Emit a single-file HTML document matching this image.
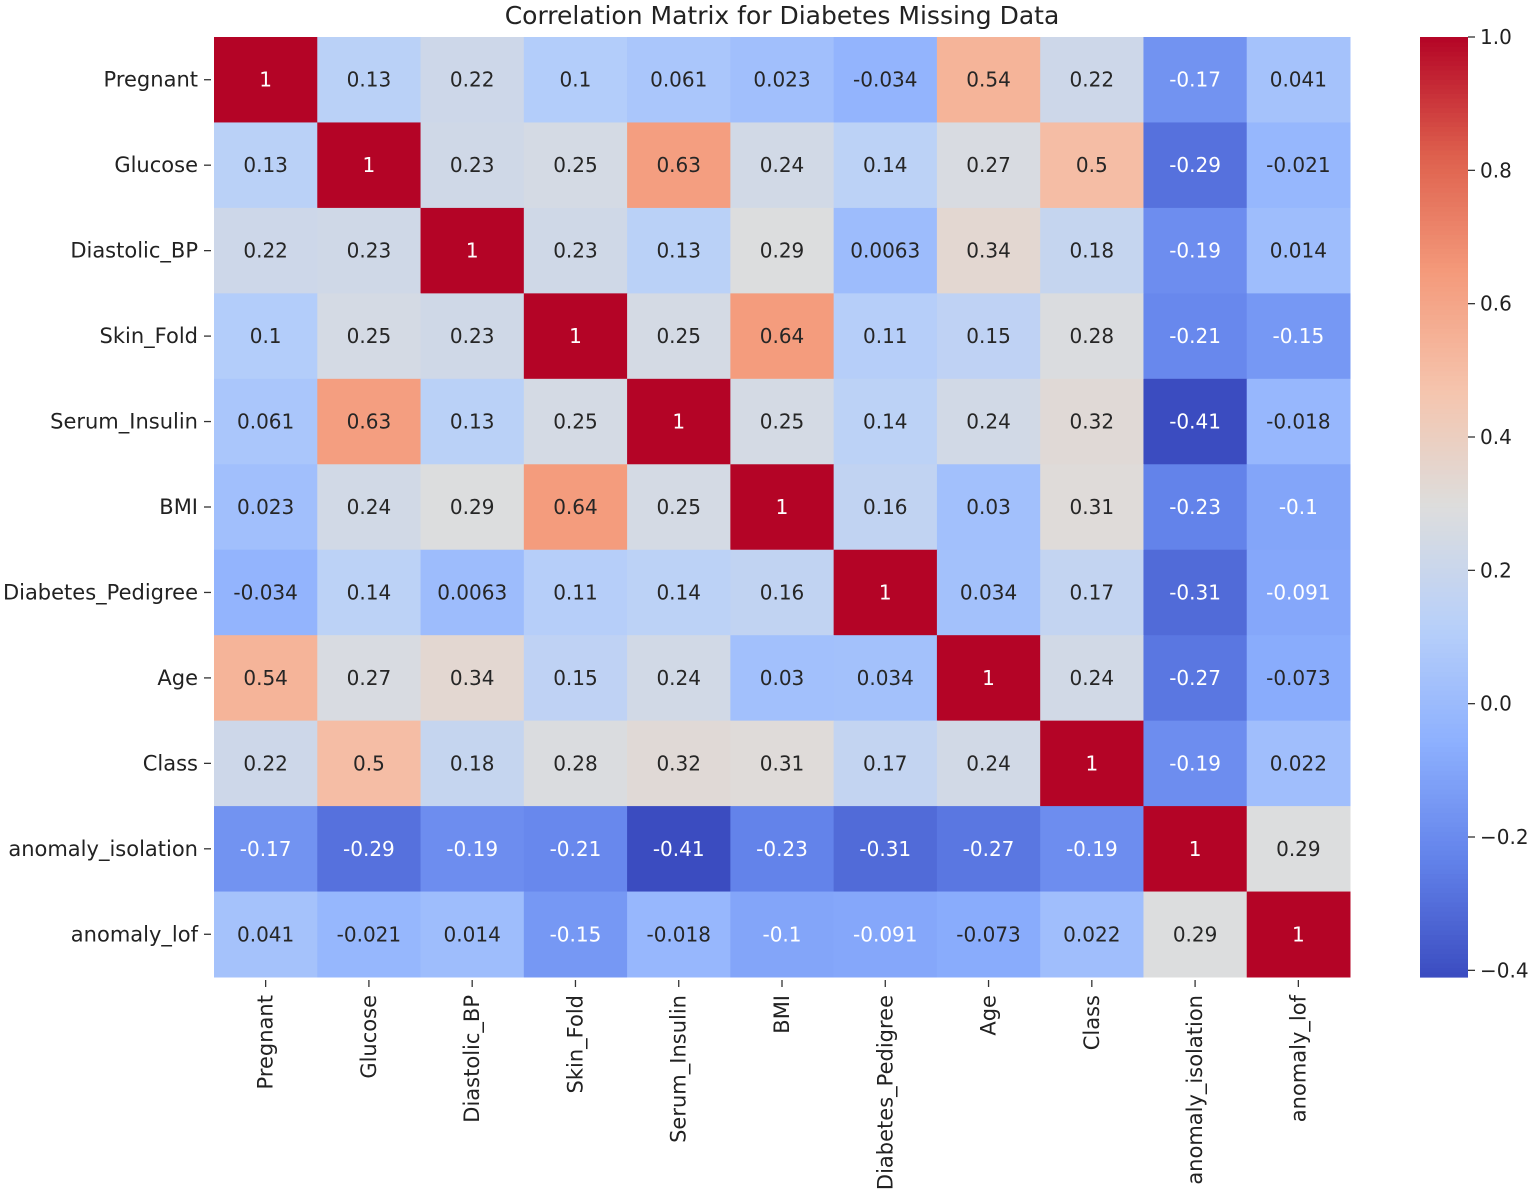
<!DOCTYPE html>
<html><head><meta charset="utf-8"><style>
body{margin:0;background:#fff;}
text{font-family:"DejaVu Sans","Liberation Sans",sans-serif;}
</style></head><body>
<svg id="chart" width="1535" height="1195" xmlns="http://www.w3.org/2000/svg">
<text x="782" y="24" font-size="25" text-anchor="middle" fill="#222">Correlation Matrix for Diabetes Missing Data</text>
<g id="cells"></g><g id="labels"></g><g id="cbar"></g>
</svg>
<script>
const variables = ["Pregnant","Glucose","Diastolic_BP","Skin_Fold","Serum_Insulin","BMI","Diabetes_Pedigree","Age","Class","anomaly_isolation","anomaly_lof"];
const annotations = [
["1","0.13","0.22","0.1","0.061","0.023","-0.034","0.54","0.22","-0.17","0.041"],
["0.13","1","0.23","0.25","0.63","0.24","0.14","0.27","0.5","-0.29","-0.021"],
["0.22","0.23","1","0.23","0.13","0.29","0.0063","0.34","0.18","-0.19","0.014"],
["0.1","0.25","0.23","1","0.25","0.64","0.11","0.15","0.28","-0.21","-0.15"],
["0.061","0.63","0.13","0.25","1","0.25","0.14","0.24","0.32","-0.41","-0.018"],
["0.023","0.24","0.29","0.64","0.25","1","0.16","0.03","0.31","-0.23","-0.1"],
["-0.034","0.14","0.0063","0.11","0.14","0.16","1","0.034","0.17","-0.31","-0.091"],
["0.54","0.27","0.34","0.15","0.24","0.03","0.034","1","0.24","-0.27","-0.073"],
["0.22","0.5","0.18","0.28","0.32","0.31","0.17","0.24","1","-0.19","0.022"],
["-0.17","-0.29","-0.19","-0.21","-0.41","-0.23","-0.31","-0.27","-0.19","1","0.29"],
["0.041","-0.021","0.014","-0.15","-0.018","-0.1","-0.091","-0.073","0.022","0.29","1"]];
const cbarTicks = ["1.0","0.8","0.6","0.4","0.2","0.0","−0.2","−0.4"];
const cbarTickValues = [1.0,0.8,0.6,0.4,0.2,0.0,-0.2,-0.4];
const vmin=-0.41, vmax=1.0;
const X0=214,X1=1350,Y0=37,Y1=977,n=variables.length;
const cw=(X1-X0)/n, ch=(Y1-Y0)/n;
const cx=i=>X0+i*cw, cy=j=>Y0+j*ch;
const stops=[[59,76,192],[98,130,234],[141,176,254],[184,208,249],[221,221,221],[245,196,173],[244,154,123],[222,96,77],[180,4,38]];
function cmap(v){let t=Math.max(0,Math.min(1,(v-vmin)/(vmax-vmin)))*(stops.length-1);let i=Math.min(stops.length-2,Math.floor(t)),f=t-i;
return stops[i].map((c,k)=>Math.round(c+(stops[i+1][k]-c)*f));}
const NS="http://www.w3.org/2000/svg";
function mk(tag,attrs,parent){const e=document.createElementNS(NS,tag);for(const k in attrs)e.setAttribute(k,attrs[k]);parent.appendChild(e);return e;}
const cells=document.getElementById('cells'),labels=document.getElementById('labels'),cbar=document.getElementById('cbar');
for(let r=0;r<n;r++)for(let c=0;c<n;c++){
 const v=parseFloat(annotations[r][c]);const col=cmap(v);
 const rect=mk('rect',{x:cx(c),y:cy(r),width:cw+0.5,height:ch+0.5,fill:`rgb(${col})`},cells);
 
 
 const light=(v<-0.08||v>0.85);
 const t=mk('text',{x:cx(c)+cw/2,y:cy(r)+ch/2+7,'font-size':20,'text-anchor':'middle',fill:light?'#ffffff':'#262626'},cells);
 t.textContent=annotations[r][c];
 
 
}
variables.forEach((name,i)=>{
 const y=cy(i)+ch/2;
 mk('line',{x1:204,x2:211,y1:y,y2:y,stroke:'#333','stroke-width':1.3},labels);
 const t=mk('text',{x:198,y:y+7,'font-size':21,'text-anchor':'end',fill:'#222'},labels);
 t.textContent=name;
 
 
 const x=cx(i)+cw/2;
 mk('line',{x1:x,x2:x,y1:980,y2:987,stroke:'#333','stroke-width':1.3},labels);
 const tx=mk('text',{x:x+7,y:995,'font-size':21,'text-anchor':'end',fill:'#222',transform:`rotate(-90 ${x+7} 995)`},labels);
 tx.textContent=name;
 
 
});
const CB0=1420,CB1=1468;
const cby=v=>Y1-(v-vmin)/(vmax-vmin)*(Y1-Y0);
for(let k=0;k<200;k++){const v0=vmin+(vmax-vmin)*k/200,v1=vmin+(vmax-vmin)*(k+1)/200;
 const col=cmap((v0+v1)/2);
 const r=mk('rect',{x:CB0,y:cby(v1),width:CB1-CB0,height:cby(v0)-cby(v1)+0.6,fill:`rgb(${col})`},cbar);
 
 
}
cbarTickValues.forEach((v,i)=>{const y=cby(v);
 mk('line',{x1:CB1,x2:CB1+7,y1:y,y2:y,stroke:'#333','stroke-width':1.3},cbar);
 const t=mk('text',{x:CB1+12,y:y+7,'font-size':20,fill:'#222'},cbar);
 t.textContent=cbarTicks[i];
 
 
});
</script>
</body></html>
